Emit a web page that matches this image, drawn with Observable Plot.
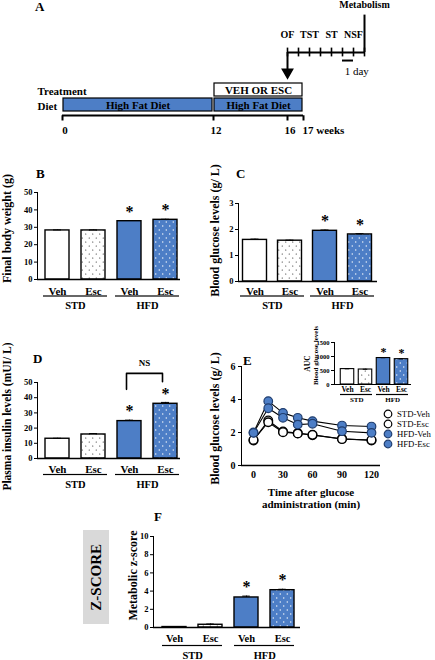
<!DOCTYPE html>
<html><head><meta charset="utf-8">
<script src="https://cdn.jsdelivr.net/npm/d3@7"></script>
<script src="https://cdn.jsdelivr.net/npm/@observablehq/plot@0.6"></script>
<style>
html,body{margin:0;padding:0;background:#fff;}
#fig{position:relative;width:435px;height:660px;overflow:hidden;background:#fff;font-family:"Liberation Serif","Times New Roman",serif;color:#000;}
.panel{position:absolute;}
.panel svg{max-width:none !important;overflow:visible;display:block;}
.panel svg text{font-family:"Liberation Serif","Times New Roman",serif !important;}
.lbl{position:absolute;white-space:nowrap;font-weight:bold;}
</style></head>
<body>
<svg width="0" height="0" style="position:absolute">
<defs>
<pattern id="dotsW" width="7" height="8" patternUnits="userSpaceOnUse"><rect width="7" height="8" fill="#fff"/><circle cx="1.75" cy="2" r="0.6" fill="#222"/><circle cx="5.25" cy="6" r="0.6" fill="#222"/></pattern>
<pattern id="dotsB" width="7" height="8" patternUnits="userSpaceOnUse"><rect width="7" height="8" fill="#4d7ec6"/><circle cx="1.75" cy="2" r="0.7" fill="#fff"/><circle cx="5.25" cy="6" r="0.7" fill="#fff"/></pattern>
</defs></svg>
<div id="fig"></div>
<script>
// ---------------- DATA ----------------
const barKeys = ["STD-Veh", "STD-Esc", "HFD-Veh", "HFD-Esc"];
const barGroups = ["STD", "STD", "HFD", "HFD"];
const barTreatments = ["Veh", "Esc", "Veh", "Esc"];
const significant = [false, false, true, true];

const bodyWeight = [28.2, 28.2, 33.5, 34.3];
const bodyWeightErr = [0.3, 0.3, 0.4, 0.3];
const bloodGlucose = [1.6, 1.57, 1.95, 1.81];
const bloodGlucoseErr = [0.03, 0.02, 0.03, 0.03];
const insulin = [13.0, 15.8, 24.6, 36.0];
const insulinErr = [0.3, 0.6, 0.6, 0.9];
const zScore = [0.05, 0.3, 3.3, 4.1];
const zScoreErr = [0.02, 0.08, 0.15, 0.1];
const aucGlucose = [550, 535, 945, 905];
const aucGlucoseErr = [10, 10, 12, 12];

const ogttSeries = ["STD-Veh", "STD-Esc", "HFD-Veh", "HFD-Esc"];
const ogttTimes = [0, 15, 30, 45, 60, 90, 120];
const ogttStdVeh = [1.52, 2.73, 2.06, 1.96, 1.84, 1.62, 1.52];
const ogttStdEsc = [1.55, 2.62, 2.02, 1.94, 1.86, 1.60, 1.55];
const ogttHfdVeh = [2.00, 3.90, 3.19, 2.89, 2.69, 2.42, 2.36];
const ogttHfdEsc = [1.98, 3.47, 2.89, 2.48, 2.53, 2.08, 1.98];
const ogttStdVehErr = [0.05, 0.08, 0.05, 0.04, 0.04, 0.05, 0.04];
const ogttStdEscErr = [0.05, 0.08, 0.05, 0.04, 0.04, 0.05, 0.04];
const ogttHfdVehErr = [0.08, 0.12, 0.12, 0.08, 0.08, 0.15, 0.15];
const ogttHfdEscErr = [0.08, 0.12, 0.10, 0.08, 0.08, 0.10, 0.10];
const ogttXTicks = [0, 30, 60, 90, 120];

const weekTicks = [0, 12, 16, 17];
const weekTickLabels = ["0", "12", "16", "17 weeks"];
const timelineRows = ["Treatment", "Diet", "weeks"];
const dietStart = [0, 12];
const dietEnd = [12, 17];
const dietText = ["High Fat Diet", "High Fat Diet"];
const treatStart = [12];
const treatEnd = [17];
const treatText = ["VEH OR ESC"];
const dayTicks = [0, 1, 2, 3, 4, 5, 6, 7];
const testDays = [0, 2, 4, 6];
const testNames = ["OF", "TST", "ST", "NSF"];
const metabolismDay = 7;
const scaleBarDays = [5, 6];

// ---------------- STYLE ----------------
const BLUE = "#4d7ec6";
const FONT = "'Liberation Serif','Times New Roman',serif";
const barFills = ["white", "url(#dotsW)", BLUE, "url(#dotsB)"];
// schematic (non-proportional) spacing of the week axis, as drawn in the figure
const weekAxisSpacing = [0, 151, 225, 241];
const fig = document.getElementById("fig");

function place(node, left, top, w) {
  const d = document.createElement("div");
  d.className = "panel";
  d.style.left = left + "px"; d.style.top = top + "px";
  if (w) d.style.width = w + "px";
  d.appendChild(node);
  fig.appendChild(d);
  return d;
}
function addText(text, left, cy, size, weight) {
  const d = document.createElement("div");
  d.className = "lbl";
  d.textContent = text;
  d.style.left = left + "px";
  d.style.top = (cy - size * 0.51) + "px";
  d.style.fontSize = size + "px";
  d.style.lineHeight = size + "px";
  if (weight) d.style.fontWeight = weight;
  fig.appendChild(d);
  return d;
}
function svgStyle(fs) {
  return {fontFamily: FONT, fontSize: fs + "px", fontWeight: "bold", background: "transparent", overflow: "visible", color: "black"};
}
const intFmt = d3.format("d");

// ---------------- BAR PANEL ----------------
function barPanel(o) {
  const data = barKeys.map((key, i) => ({key, group: barGroups[i], trt: barTreatments[i], v: o.values[i], e: o.errors[i], sig: significant[i], fill: barFills[i]}));
  const firsts = data.filter((d, i) => i % 2 === 0), seconds = data.filter((d, i) => i % 2 === 1);
  const step = (o.xRange[1] - o.xRange[0]) / barKeys.length;
  const inset = (step - o.barWidth) / 2;
  const zero = () => 0;
  const marks = [
    ...data.map(d => Plot.barY([d], {x: "key", y: "v", fill: d.fill, stroke: "black", strokeWidth: o.sw, insetLeft: inset, insetRight: inset})),
    Plot.ruleX(data, {x: "key", y1: "v", y2: d => d.v + d.e, stroke: "black", strokeWidth: 1}),
    Plot.tickY(data, {x: "key", y: d => d.v + d.e, insetLeft: step / 2 - o.cap, insetRight: step / 2 - o.cap, stroke: "black", strokeWidth: 1}),
    Plot.ruleY([0], {stroke: "black", strokeWidth: o.sw}),
    Plot.text(data.filter(d => d.sig), {x: "key", y: d => d.v + d.e, text: () => "*", fontSize: o.fs.star, dy: o.starDy}),
    Plot.text(data, {x: "key", y: zero, text: "trt", fontSize: o.fs.cat, dy: o.catDy}),
    Plot.tickY(firsts, {x: "key", y: zero, insetLeft: o.ulInset, dy: o.ulDy, stroke: "black", strokeWidth: 1.2}),
    Plot.tickY(seconds, {x: "key", y: zero, insetRight: o.ulInset, dy: o.ulDy, stroke: "black", strokeWidth: 1.2}),
    Plot.text(firsts, {x: "key", y: zero, text: "group", fontSize: o.fs.group, dx: step / 2, dy: o.groupDy}),
    ...o.titles.map(t => Plot.text([t.text], {frameAnchor: "left", text: d => d, rotate: -90, textAnchor: "middle", lineAnchor: "middle", fontSize: t.size, dx: -t.offset, dy: t.dy})),
    ...(o.extra ? o.extra(step) : [])
  ];
  const svg = Plot.plot({
    width: o.width, height: o.height,
    marginLeft: o.marginLeft, marginRight: o.marginRight, marginTop: o.marginTop, marginBottom: o.marginBottom,
    style: svgStyle(o.fs.tick),
    x: {type: "band", domain: barKeys, range: o.xRange, padding: 0, axis: null},
    y: {domain: o.yDomain, ticks: o.yTicks, tickFormat: intFmt, tickSize: 3, tickPadding: 2, line: true, label: null},
    marks
  });
  return place(svg, o.left, o.top, o.width);
}

// ---------------- PANEL A ----------------
(function () {
  const weekPos = d3.scaleLinear(weekTicks, weekAxisSpacing);
  const diet = dietStart.map((s, i) => ({start: weekPos(s), end: weekPos(dietEnd[i]), text: dietText[i]}));
  const treat = treatStart.map((s, i) => ({start: weekPos(s), end: weekPos(treatEnd[i]), text: treatText[i]}));
  const weeks = weekTicks.map((w, i) => ({w: weekPos(w), label: weekTickLabels[i]}));
  const rows = timelineRows.slice(0, 2);
  const axisEnd = weekAxisSpacing[weekAxisSpacing.length - 1];
  const svg = Plot.plot({
    width: 435, height: 140, margin: 0,
    style: svgStyle(11),
    x: {domain: [0, axisEnd], range: [62, 303], axis: null},
    y: {type: "band", domain: timelineRows, range: [82.5, 127.5], paddingInner: 0.12, paddingOuter: 0, axis: null},
    marks: [
      Plot.barX(diet, {x1: "start", x2: "end", y: () => "Diet", fill: BLUE, stroke: "black", strokeWidth: 1.2, insetLeft: 1, insetRight: 1}),
      Plot.barX(treat, {x1: "start", x2: "end", y: () => "Treatment", fill: "white", stroke: "black", strokeWidth: 1.2, insetLeft: 1, insetRight: 1}),
      Plot.text(diet, {x: d => (d.start + d.end) / 2, y: () => "Diet", text: "text", fontSize: 11, fill: "black"}),
      Plot.text(treat, {x: d => (d.start + d.end) / 2, y: () => "Treatment", text: "text", fontSize: 11, fill: "black"}),
      Plot.text(rows, {frameAnchor: "left", y: d => d, text: d => d, textAnchor: "start", dx: 37, dy: 1.5, fontSize: 11}),
      Plot.ruleY(["weeks"], {y: d => d, x1: () => 0, x2: () => axisEnd, stroke: "black", strokeWidth: 2, dy: -4.6}),
      Plot.tickX(weeks, {x: "w", y: () => "weeks", insetTop: 2.25, insetBottom: 5.5, stroke: "black", strokeWidth: 2}),
      Plot.text(weeks.slice(0, -1), {x: "w", y: () => "weeks", text: "label", dx: 2.5, dy: 10.4, fontSize: 11}),
      Plot.text(weeks.slice(-1), {x: "w", y: () => "weeks", text: "label", textAnchor: "start", dx: -1, dy: 10.4, fontSize: 11})
    ]
  });
  place(svg, 0, 0, 435);

  const tests = testDays.map((d, i) => ({day: d, name: testNames[i]}));
  const svg2 = Plot.plot({
    width: 435, height: 140, margin: 0,
    style: svgStyle(10),
    x: {domain: [0, 7], range: [287, 364], axis: null},
    y: {domain: [-3, 5], range: [85, -3], axis: null},
    marks: [
      Plot.ruleY([0], {x1: () => dayTicks[0], x2: () => dayTicks[dayTicks.length - 1], stroke: "black", strokeWidth: 2}),
      Plot.ruleX(dayTicks, {x: d => d, y1: () => -0.4, y2: () => 0.4, stroke: "black", strokeWidth: 1.6}),
      Plot.ruleX([metabolismDay], {x: d => d, y1: () => 0, y2: () => 3.4, stroke: "black", strokeWidth: 2}),
      Plot.text(["Metabolism"], {x: () => metabolismDay, y: () => 4.3, text: d => d, fontSize: 10}),
      Plot.text(tests, {x: "day", y: () => 1.65, text: "name", fontSize: 10}),
      Plot.ruleX([testDays[0]], {x: d => d, y1: () => 0, y2: () => -1.7, stroke: "black", strokeWidth: 2}),
      Plot.dot([testDays[0]], {x: d => d, y: () => -1.8, symbol: "triangle", rotate: 180, r: 3.8, fill: "black", stroke: "black"}),
      Plot.ruleY([-0.73], {x1: () => scaleBarDays[0], x2: () => scaleBarDays[1], stroke: "black", strokeWidth: 2}),
      Plot.text(["1 day"], {x: () => scaleBarDays[1] + 0.3, y: () => -1.75, text: d => d, fontSize: 11, fontWeight: "normal"})
    ]
  });
  place(svg2, 0, 0, 435);
  addText("A", 35, 7, 13);
})();

// ---------------- PANEL B ----------------
barPanel({
  values: bodyWeight, errors: bodyWeightErr,
  left: 0, top: 160, width: 200, height: 154,
  marginLeft: 37, marginRight: 20, marginTop: 32, marginBottom: 35,
  xRange: [39, 183], barWidth: 24, sw: 1.4, cap: 4,
  yDomain: [0, 50], yTicks: [0, 10, 20, 30, 40, 50],
  fs: {tick: 8.5, cat: 11, group: 10.5, star: 16},
  starDy: -9, catDy: 12, ulDy: 16.5, groupDy: 26.5, ulInset: 4,
  titles: [{text: "Final body weight (g)", size: 12, offset: 30, dy: -7.5}]
});
addText("B", 36, 173.5, 13);

// ---------------- PANEL C ----------------
barPanel({
  values: bloodGlucose, errors: bloodGlucoseErr,
  left: 200, top: 160, width: 200, height: 156,
  marginLeft: 38, marginRight: 23, marginTop: 43, marginBottom: 35,
  xRange: [37, 177], barWidth: 24, sw: 1.4, cap: 4,
  yDomain: [0, 3], yTicks: [0, 1, 2, 3],
  fs: {tick: 8.5, cat: 11, group: 10.5, star: 16},
  starDy: -9, catDy: 10, ulDy: 14.5, groupDy: 24.5, ulInset: 3,
  titles: [{text: "Blood glucose levels (g/ L)", size: 12, offset: 23, dy: -12}]
});
addText("C", 236, 173.5, 13);

// ---------------- PANEL D ----------------
const nsBracket = [{key: "HFD-Veh", y: 45.5}, {key: "HFD-Veh", y: 56}, {key: "HFD-Esc", y: 56}, {key: "HFD-Esc", y: 50.5}];
barPanel({
  values: insulin, errors: insulinErr,
  left: 0, top: 340, width: 200, height: 155,
  marginLeft: 37, marginRight: 20, marginTop: 42, marginBottom: 37,
  xRange: [39, 183], barWidth: 24, sw: 1.4, cap: 4,
  yDomain: [0, 50], yTicks: [0, 10, 20, 30, 40, 50],
  fs: {tick: 8.5, cat: 11, group: 10.5, star: 16},
  starDy: -9, catDy: 11, ulDy: 16, groupDy: 26.5, ulInset: 4,
  titles: [{text: "Plasma insulin levels (mUI/ L)", size: 11.5, offset: 30, dy: -4}],
  extra: step => [
    Plot.line(nsBracket, {x: "key", y: "y", stroke: "black", strokeWidth: 1.6, dx: -3}),
    Plot.text([nsBracket[1]], {x: "key", y: "y", text: () => "NS", dx: step / 2 - 3, dy: -10, fontSize: 9})
  ]
});
addText("D", 33, 358.5, 13);

// ---------------- PANEL E ----------------
(function () {
  const vals = [ogttStdVeh, ogttStdEsc, ogttHfdVeh, ogttHfdEsc];
  const errs = [ogttStdVehErr, ogttStdEscErr, ogttHfdVehErr, ogttHfdEscErr];
  const data = [];
  ogttSeries.forEach((s, si) => ogttTimes.forEach((t, ti) => data.push({series: s, hfd: si >= 2, t, v: vals[si][ti], e: errs[si][ti]})));
  const std = data.filter(d => !d.hfd), hfd = data.filter(d => d.hfd);
  const svg = Plot.plot({
    width: 235, height: 180,
    marginLeft: 41, marginRight: 55, marginTop: 26, marginBottom: 55,
    style: svgStyle(10),
    x: {domain: [0, 120], range: [53, 171], ticks: ogttXTicks, tickFormat: intFmt, tickSize: 0, tickPadding: 5, label: null},
    y: {domain: [0, 6], ticks: [0, 2, 4, 6], tickFormat: intFmt, tickSize: 3, tickPadding: 3, line: true, label: null},
    marks: [
      Plot.ruleY([0], {stroke: "black", strokeWidth: 1.3}),
      Plot.ruleX(data, {x: "t", y1: "v", y2: d => d.v + d.e, stroke: "black", strokeWidth: 1}),
      Plot.ruleY(data, {y: d => d.v + d.e, x1: d => d.t - 1.6, x2: d => d.t + 1.6, stroke: "black", strokeWidth: 1}),
      Plot.line(data, {x: "t", y: "v", z: "series", stroke: "black", strokeWidth: 1.1}),
      Plot.dot(std, {x: "t", y: "v", r: 4.3, fill: "white", stroke: "black", strokeWidth: 1.4}),
      Plot.dot(hfd, {x: "t", y: "v", r: 4.3, fill: BLUE, stroke: "#1f3d6e", strokeWidth: 1.2}),
      Plot.text(["Time after glucose\nadministration (min)"], {frameAnchor: "bottom", text: d => d, textAnchor: "middle", lineAnchor: "top", dy: 21.5, fontSize: 11, lineHeight: 1.1}),
      Plot.text(["Blood glucose levels (g/ L)"], {frameAnchor: "left", text: d => d, rotate: -90, textAnchor: "middle", lineAnchor: "middle", fontSize: 12, dx: -26, dy: 2.5})
    ]
  });
  place(svg, 200, 340, 235);
  addText("E", 243, 360.5, 13);

  // legend
  const leg = document.createElement("div");
  leg.style.cssText = "position:absolute;left:383px;top:409px;width:52px;white-space:nowrap;font-family:" + FONT + ";font-size:8.7px;";
  ogttSeries.forEach((s, i) => {
    const row = document.createElement("div");
    row.style.cssText = "height:10px;display:flex;align-items:center;white-space:nowrap;";
    const fill = i >= 2 ? BLUE : "white", stroke = i >= 2 ? "#1f3d6e" : "black";
    row.innerHTML = `<svg width="10" height="10" style="flex:none"><circle cx="5" cy="5" r="3.8" fill="${fill}" stroke="${stroke}" stroke-width="1.2"/></svg><span style="margin-left:4px;line-height:10px;white-space:nowrap;">${s}</span>`;
    leg.appendChild(row);
  });
  fig.appendChild(leg);
})();

// inset AUC
barPanel({
  values: aucGlucose, errors: aucGlucoseErr,
  left: 290, top: 325, width: 130, height: 79,
  marginLeft: 44, marginRight: 9, marginTop: 17, marginBottom: 20,
  xRange: [47, 121], barWidth: 14, sw: 1.1, cap: 2.5,
  yDomain: [0, 1500], yTicks: [0, 500, 1000, 1500],
  fs: {tick: 6.5, cat: 7.5, group: 7, star: 12},
  starDy: -6, catDy: 5.5, ulDy: 10, groupDy: 15, ulInset: 2,
  titles: [
    {text: "AUC", size: 7.5, offset: 27, dy: 0},
    {text: "Blood glucose levels", size: 7, offset: 19, dy: -8}
  ]
});

// ---------------- PANEL F ----------------
barPanel({
  values: zScore, errors: zScoreErr,
  left: 100, top: 500, width: 220, height: 160,
  marginLeft: 53, marginRight: 20, marginTop: 36, marginBottom: 33,
  xRange: [55, 201], barWidth: 24.5, sw: 1.4, cap: 4,
  yDomain: [0, 10], yTicks: [0, 2, 4, 6, 8, 10],
  fs: {tick: 8.5, cat: 10.5, group: 10.5, star: 16},
  starDy: -9, catDy: 11, ulDy: 18, groupDy: 28, ulInset: 6,
  titles: [{text: "Metabolic z-score", size: 12, offset: 20, dy: -6.5}]
});
addText("F", 154, 517, 13);

// Z-SCORE box
(function () {
  const box = document.createElement("div");
  box.style.cssText = "position:absolute;left:83px;top:530px;width:26px;height:94px;background:#d9d9d9;display:flex;align-items:center;justify-content:center;";
  const t = document.createElement("span");
  t.textContent = "Z-SCORE";
  t.style.cssText = "writing-mode:vertical-rl;transform:rotate(180deg);font-weight:bold;font-size:15px;line-height:15px;white-space:nowrap;";
  box.appendChild(t);
  fig.appendChild(box);
})();
</script>
</body></html>
